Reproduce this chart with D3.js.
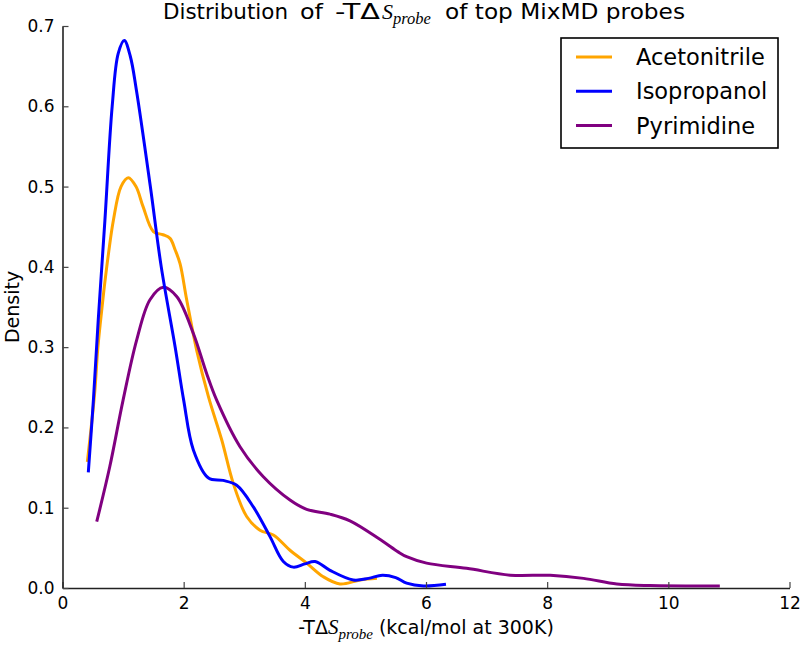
<!DOCTYPE html>
<html>
<head>
<meta charset="utf-8">
<script src="https://cdn.jsdelivr.net/npm/d3@7"></script>
<style>
  html, body { margin: 0; padding: 0; background: #fff; }
  svg { display: block; }
  text { font-family: "DejaVu Sans", sans-serif; fill: #000; }
</style>
</head>
<body>
<svg id="chart" width="800" height="645"></svg>
<script>
// ---- data ----
const seriesNames = ["Acetonitrile", "Isopropanol", "Pyrimidine"];
const seriesColors = ["#FFA500", "#0000FF", "#800080"];

const acetonitrileX = [0.41,0.53,0.58,0.63,0.69,0.76,0.84,0.966,1.086,1.213,1.33,1.50,1.66,1.775,1.86,1.94,2.05,2.215,2.41,2.63,2.82,3.04,3.26,3.48,3.755,4.03,4.305,4.58,4.91,5.19];
const acetonitrileY = [0.157,0.242,0.296,0.334,0.375,0.417,0.458,0.500,0.511,0.500,0.475,0.444,0.440,0.4355,0.421,0.404,0.359,0.296,0.238,0.184,0.130,0.089,0.072,0.066,0.047,0.031,0.014,0.005,0.010,0.012];

const isopropanolX = [0.426,0.51,0.59,0.70,0.82,0.92,1.02,1.12,1.22,1.45,1.63,1.86,2.0,2.16,2.41,2.65,2.875,3.15,3.425,3.645,3.81,4.0,4.17,4.415,4.80,5.05,5.28,5.50,5.68,5.96,6.33];
const isopropanolY = [0.144,0.234,0.334,0.458,0.600,0.666,0.682,0.662,0.620,0.500,0.400,0.300,0.234,0.172,0.137,0.134,0.128,0.101,0.064,0.033,0.026,0.030,0.033,0.022,0.010,0.012,0.016,0.013,0.006,0.0025,0.0046];

const pyrimidineX = [0.565,0.78,1.0,1.225,1.444,1.664,1.885,2.16,2.38,2.545,2.93,3.315,3.755,4.03,4.415,4.745,5.25,5.54,5.68,6.01,6.67,7.39,8.05,8.6,9.15,9.70,10.85];
const pyrimidineY = [0.0826,0.151,0.234,0.309,0.359,0.3745,0.363,0.317,0.267,0.234,0.176,0.1386,0.1096,0.098,0.092,0.0836,0.060,0.045,0.039,0.031,0.0245,0.016,0.0158,0.012,0.005,0.003,0.0025];

const xTicks = [0, 2, 4, 6, 8, 10, 12];
const yTicks = [0.0, 0.1, 0.2, 0.3, 0.4, 0.5, 0.6, 0.7];

// ---- layout ----
const svg = d3.select("#chart");
const mLeft = 62.5, mRight = 789.5, mTop = 26, mBottom = 588;

const x = d3.scaleLinear().domain([0, 12]).range([mLeft, mRight]);
const y = d3.scaleLinear().domain([0, 0.7]).range([mBottom, mTop]);

const series = [
  {name: seriesNames[0], color: seriesColors[0], xs: acetonitrileX, ys: acetonitrileY, z: 0},
  {name: seriesNames[1], color: seriesColors[1], xs: isopropanolX, ys: isopropanolY, z: 2},
  {name: seriesNames[2], color: seriesColors[2], xs: pyrimidineX, ys: pyrimidineY, z: 1}
];

const line = d3.line()
  .x(d => x(d[0]))
  .y(d => y(d[1]))
  .curve(d3.curveCatmullRom.alpha(0.5));

const g = svg.append("g");
series.slice().sort((a, b) => a.z - b.z).forEach(s => {
  const pts = s.xs.map((v, i) => [v, s.ys[i]]);
  g.append("path")
    .datum(pts)
    .attr("d", line)
    .attr("fill", "none")
    .attr("stroke", s.color)
    .attr("stroke-width", 3)
    .attr("stroke-linejoin", "round");
});

// ---- axes (ticks inward) ----
const xAxis = d3.axisBottom(x).tickValues(xTicks).tickFormat(d3.format("d")).tickSizeInner(-6).tickSizeOuter(0).tickPadding(14);
const yAxis = d3.axisLeft(y).tickValues(yTicks).tickFormat(d3.format(".1f")).tickSizeInner(-6).tickSizeOuter(0).tickPadding(14);

const gx = svg.append("g").attr("transform", `translate(0,${mBottom})`).call(xAxis);
const gy = svg.append("g").attr("transform", `translate(${mLeft},0)`).call(yAxis);
[gx, gy].forEach(a => {
  a.select(".domain").attr("stroke", "#222").attr("stroke-width", 1.6);
  a.selectAll(".tick line").attr("stroke", "#444").attr("stroke-width", 1.2);
  a.selectAll(".tick text").style("font-family", "DejaVu Sans").style("font-size", "17px").attr("fill", "#000");
});
gx.selectAll(".tick text").attr("dy", "0.71em").attr("y", 9);
gy.selectAll(".tick text").attr("x", -8);

// ---- title ----
const title = svg.append("text")
  .attr("y", 19)
  .style("font-size", "22px");
title.append("tspan").attr("x", 163).attr("textLength", 125).attr("lengthAdjust", "spacingAndGlyphs").text("Distribution");
title.append("tspan").attr("x", 300).attr("textLength", 23).attr("lengthAdjust", "spacingAndGlyphs").text("of");
title.append("tspan").attr("x", 335).attr("textLength", 45).attr("lengthAdjust", "spacingAndGlyphs").text("-TΔ");
title.append("tspan").attr("x", 382).text("S").style("font-family", "Liberation Serif").style("font-style", "italic").style("font-size", "22px");
title.append("tspan").text("probe").attr("dy", 5).style("font-family", "Liberation Serif").style("font-style", "italic").style("font-size", "16.5px");
title.append("tspan").attr("x", 445).attr("dy", -5).attr("textLength", 240).attr("lengthAdjust", "spacingAndGlyphs").text("of top MixMD probes");

// ---- x label ----
const xl = svg.append("text")
  .attr("x", (mLeft + mRight) / 2).attr("y", 634)
  .attr("text-anchor", "middle")
  .style("font-size", "19px");
xl.append("tspan").text("-TΔ");
xl.append("tspan").text("S").style("font-family", "Liberation Serif").style("font-style", "italic").style("font-size", "21px");
xl.append("tspan").text("probe").attr("dy", 5).style("font-family", "Liberation Serif").style("font-style", "italic").style("font-size", "15px");
xl.append("tspan").text(" (kcal/mol at 300K)").attr("dy", -5);

// ---- y label ----
svg.append("text")
  .attr("transform", `translate(19,${(mTop + mBottom) / 2}) rotate(-90)`)
  .attr("text-anchor", "middle")
  .style("font-size", "19px")
  .text("Density");

// ---- legend ----
const lg = svg.append("g");
lg.append("rect")
  .attr("x", 561).attr("y", 38).attr("width", 217).attr("height", 110)
  .attr("fill", "#fff").attr("stroke", "#000").attr("stroke-width", 1.6);
series.forEach((s, i) => {
  const cy = 57 + i * 34.3;
  lg.append("line").attr("x1", 576).attr("x2", 612).attr("y1", cy).attr("y2", cy)
    .attr("stroke", s.color).attr("stroke-width", 3);
  lg.append("text").attr("x", 636).attr("y", cy + 8)
    .style("font-size", "22.5px").text(s.name);
});
</script>
</body>
</html>
